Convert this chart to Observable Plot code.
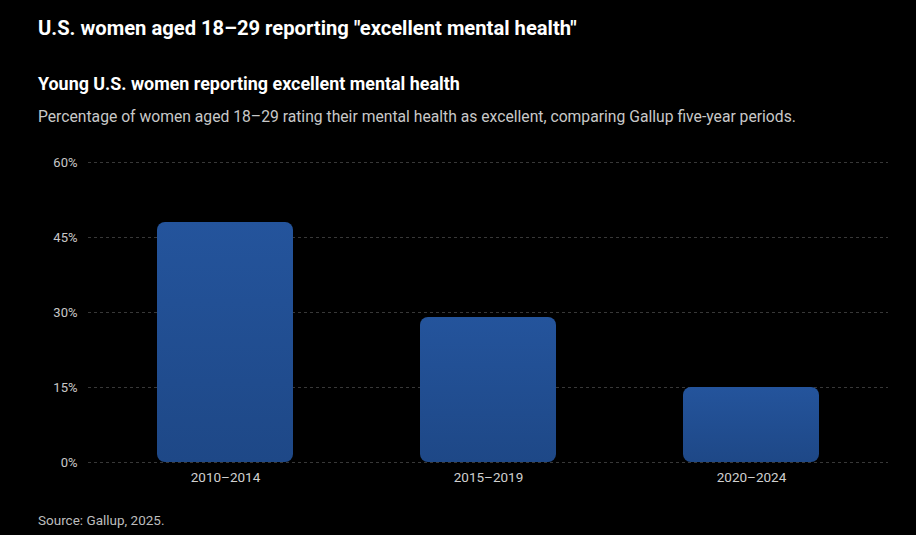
<!DOCTYPE html>
<html>
<head>
<meta charset="utf-8">
<script src="https://cdn.jsdelivr.net/npm/d3@7"></script>
<script src="https://cdn.jsdelivr.net/npm/@observablehq/plot@0.6"></script>
<style>
  html, body { margin: 0; padding: 0; background: #000; }
  body { width: 916px; height: 535px; position: relative; overflow: hidden; font-family: Roboto, "Noto Sans", sans-serif; color: #fff; }
  .t { position: absolute; left: 38px; line-height: 1; white-space: nowrap; }
  #title { top: 18px; font-size: 20.2px; font-weight: 700; color: #fff; }
  #subtitle { top: 75px; font-size: 17.9px; font-weight: 700; color: #fff; }
  #desc { top: 109px; font-size: 15.7px; color: #c8c8c8; }
  #source { top: 514px; font-size: 13.5px; color: #bdbdbd; }
  #chart { position: absolute; left: 38px; top: 142px; }
</style>
</head>
<body>
<div class="t" id="title">U.S. women aged 18–29 reporting "excellent mental health"</div>
<div class="t" id="subtitle">Young U.S. women reporting excellent mental health</div>
<div class="t" id="desc">Percentage of women aged 18–29 rating their mental health as excellent, comparing Gallup five-year periods.</div>
<div id="chart"></div>
<div class="t" id="source">Source: Gallup, 2025.</div>
<script>
const periods = ["2010–2014", "2015–2019", "2020–2024"];
const values = [48, 29, 15];
const yTicks = [0, 15, 30, 45, 60];

const data = periods.map((p, i) => ({period: p, value: values[i]}));

const gradientDefs = () => {
  const ns = "http://www.w3.org/2000/svg";
  const defs = document.createElementNS(ns, "defs");
  const lg = document.createElementNS(ns, "linearGradient");
  lg.setAttribute("id", "barGrad");
  lg.setAttribute("x1", "0"); lg.setAttribute("y1", "0");
  lg.setAttribute("x2", "0"); lg.setAttribute("y2", "1");
  [["0%", "#24549c"], ["100%", "#1e4887"]].forEach(([o, c]) => {
    const s = document.createElementNS(ns, "stop");
    s.setAttribute("offset", o); s.setAttribute("stop-color", c);
    lg.appendChild(s);
  });
  defs.appendChild(lg);
  return defs;
};

const chart = Plot.plot({
  width: 878,
  height: 350,
  marginLeft: 50,
  marginRight: 28,
  marginTop: 20,
  marginBottom: 30,
  style: {background: "#000", color: "#c8c8c8", fontSize: "13px", fontFamily: "Roboto, 'Noto Sans', sans-serif", overflow: "visible"},
  x: {domain: periods, paddingInner: 0.483, paddingOuter: 0.26, label: null},
  y: {domain: [0, 60], label: null},
  marks: [
    gradientDefs,
    Plot.ruleY(yTicks, {stroke: "#ffffff", strokeOpacity: 0.22, strokeDasharray: "3,3", strokeWidth: 1}),
    Plot.barY(data, {x: "period", y: "value", fill: "url(#barGrad)", rx: 8, ry: 8}),
    Plot.axisY(yTicks, {tickSize: 0, tickPadding: 11, tickFormat: d => d + "%", fill: "#c8c8c8", label: null, fontSize: 13}),
    Plot.axisX({tickSize: 0, tickPadding: 10, fill: "#d0d0d0", label: null, fontSize: 13.5})
  ]
});
document.getElementById("chart").appendChild(chart);
</script>
</body>
</html>
